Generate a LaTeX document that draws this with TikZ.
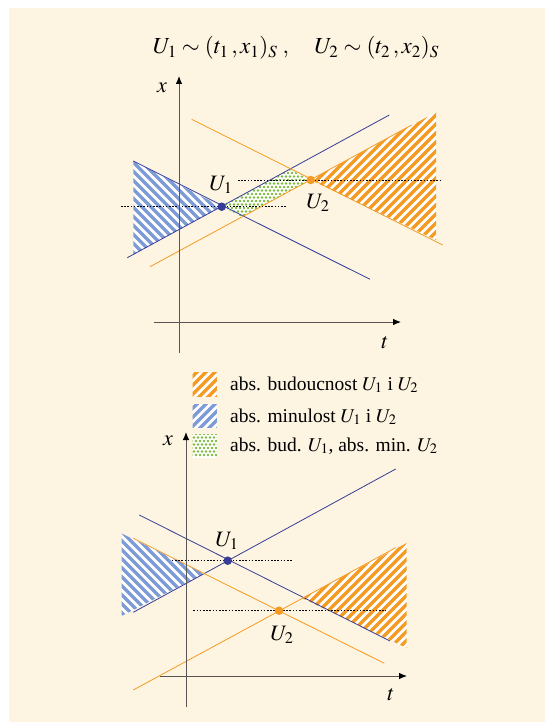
\documentclass[tikz,border=0pt]{standalone}
\usepackage{mathptmx}
\usepackage{fontspec}
\setmainfont{Liberation Serif}
\usetikzlibrary{arrows.meta}
\definecolor{cream}{RGB}{253,244,225}
\definecolor{navy}{RGB}{55,60,150}
\definecolor{amber}{RGB}{245,155,35}
\definecolor{sky}{RGB}{125,155,215}
\definecolor{leaf}{RGB}{125,185,60}
\definecolor{axisgray}{RGB}{90,85,85}
\tikzset{
  >={Latex[length=8pt,width=6.5pt,color=black]},
  axisline/.style={draw=axisgray,line width=0.9pt,->},
  cone/.style={draw=#1,line width=0.8pt},
  cone/.default=navy,
  level/.style={draw=black,line width=0.8pt,dash pattern=on 1.6pt off 1.6pt},
  event/.style={circle,fill=#1,inner sep=0pt,minimum size=8.5pt},
  stripe/.style={draw=#1,line width=3.3pt},
  grain/.style={fill=leaf},
  swatch/.style={minimum width=24pt,minimum height=23pt,inner sep=0pt},
  lbl/.style={font=\fontsize{22}{24}\selectfont},
  legtext/.style={font=\fontsize{19.5}{22}\selectfont,anchor=base west,inner sep=0pt},
}

\begin{document}
\begin{tikzpicture}[x=1pt,y=-1pt]
  \useasboundingbox (0,0) rectangle (545,722);
  \fill[white] (0,0) rectangle (545,722);
  \fill[cream] (9,8) rectangle (545,722);

  \node[font=\fontsize{23}{26}\selectfont,anchor=base] (title) at (296,54)
    {$U_1\sim(t_1\,,x_1)_S\;,\quad U_2\sim(t_2\,,x_2)_S$};

  % upper picture: U2 lies in the future of U1
  \coordinate (a1) at (221.7,206.7);
  \coordinate (a2) at (310.7,180);
  \coordinate (ab) at (127.3,257.7);  \coordinate (ae) at (389.3,115);
  \coordinate (af) at (133.3,161);    \coordinate (ag) at (370,279.3);
  \coordinate (ah) at (191.7,119.3);  \coordinate (ai) at (442.7,245);
  \coordinate (aj) at (150,266.7);    \coordinate (ak) at (411.7,125);
  \coordinate (ptop) at (290,169.6);  \coordinate (pbot) at (242.3,217);
  \begin{scope}
    \clip (a1) -- (af) -- (133.3,254.6) -- cycle;
    \fill[white] (120,150) rectangle (230,260);
    \foreach \c in {-128,-119,...,70} \draw[stripe=sky] (\c+150,150) -- (\c+265,265);
  \end{scope}
  \begin{scope}
    \clip (a2) -- (436,112.2) -- (436,240) -- cycle;
    \fill[white] (300,100) rectangle (440,250);
    \foreach \c in {416,425,...,690} \draw[stripe=amber] (\c-100,100) -- (\c-255,255);
  \end{scope}
  \begin{scope}
    \clip (a1) -- (ptop) -- (a2) -- (pbot) -- cycle;
    \fill[white] (215,165) rectangle (315,220);
    \foreach \i in {0,...,25} \foreach \j in {0,...,16}
      \fill[grain] ({216+4*\i+2*mod(\j,2)},{166+3.5*\j}) circle (1.4);
  \end{scope}
  \draw[cone] (ab) -- (ae);
  \draw[cone] (af) -- (ag);
  \draw[cone=amber] (ah) -- (ai);
  \draw[cone=amber] (aj) -- (ak);
  \coordinate (al1) at (121,206.7);   \coordinate (ar1) at (286,206.7);
  \coordinate (al2) at (238,180);     \coordinate (ar2) at (440,180);
  \draw[level] (al1) -- (ar1);
  \draw[level] (al2) -- (ar2);
  \coordinate (ax0) at (179,353);     \coordinate (ax1) at (179,76);
  \coordinate (at0) at (154,322);     \coordinate (at1) at (401,322);
  \draw[axisline] (ax0) -- (ax1);
  \draw[axisline] (at0) -- (at1);
  \node[event=navy] (e1) at (a1) {};
  \node[event=amber] (e2) at (a2) {};
  \node[lbl] (n1) at (221,185) {$U_1$};
  \node[lbl] (n2) at (318,203) {$U_2$};
  \node[lbl] (xa) at (162,88) {$x$};
  \node[lbl] (ta) at (385,343) {$t$};

  % legend
  \node[swatch] (s1) at (204.7,384.3) {};
  \node[swatch] (s2) at (204.7,415.8) {};
  \node[swatch] (s3) at (204.7,446) {};
  \begin{scope}
    \clip (s1.north west) rectangle (s1.south east);
    \fill[white] (s1.north west) rectangle (s1.south east);
    \foreach \c in {560,569,...,620} \draw[stripe=amber] (\c-365,365) -- (\c-405,405);
  \end{scope}
  \begin{scope}
    \clip (s2.north west) rectangle (s2.south east);
    \fill[white] (s2.north west) rectangle (s2.south east);
    \foreach \c in {592,601,...,650} \draw[stripe=sky] (\c-398,398) -- (\c-435,435);
  \end{scope}
  \begin{scope}
    \clip (s3.north west) rectangle (s3.south east);
    \fill[white] (s3.north west) rectangle (s3.south east);
    \foreach \i in {0,...,6} \foreach \j in {0,...,6}
      \fill[grain] ({192+4*\i+2*mod(\j,2)},{434+3.5*\j}) circle (1.4);
  \end{scope}
  \node[legtext] (l1) at (230,390) {abs. budoucnost $U_1$ i $U_2$};
  \node[legtext] (l2) at (230,422) {abs. minulost $U_1$ i $U_2$};
  \node[legtext] (l3) at (230,451) {abs. bud. $U_1$, abs. min. $U_2$};

  % lower picture: U1 and U2 are not causally related
  \coordinate (b1) at (227.7,560.7);
  \coordinate (b2) at (279,610.7);
  \coordinate (bb) at (133.3,612.3);  \coordinate (be) at (395.7,469);
  \coordinate (bf) at (139.3,515);    \coordinate (bg) at (390,641);
  \coordinate (bh) at (133.3,538.3);  \coordinate (bi) at (384.3,663.3);
  \coordinate (bj) at (133.3,690);    \coordinate (bk) at (395.7,547.7);
  \coordinate (qpast) at (204.4,573.4);
  \coordinate (qfut) at (302.1,598.2);
  \begin{scope}
    \clip (121.7,533.5) -- (qpast) -- (121.7,616) -- cycle;
    \fill[white] (115,525) rectangle (210,620);
    \foreach \c in {-500,-491,...,-320} \draw[stripe=sky] (\c+525,525) -- (\c+625,625);
  \end{scope}
  \begin{scope}
    \clip (qfut) -- (406.7,543) -- (406.7,648) -- cycle;
    \fill[white] (295,535) rectangle (410,655);
    \foreach \c in {840,849,...,1065} \draw[stripe=amber] (\c-535,535) -- (\c-655,655);
  \end{scope}
  \draw[cone] (bb) -- (be);
  \draw[cone] (bf) -- (bg);
  \draw[cone=amber] (bh) -- (bi);
  \draw[cone=amber] (bj) -- (bk);
  \coordinate (bl1) at (171.7,560.7); \coordinate (br1) at (292.7,560.7);
  \coordinate (bl2) at (193.3,610.7); \coordinate (br2) at (386,610.7);
  \draw[level] (bl1) -- (br1);
  \draw[level] (bl2) -- (br2);
  \coordinate (bx0) at (186,707);     \coordinate (bx1) at (186,432);
  \coordinate (bt0) at (160,676);     \coordinate (bt1) at (407,676);
  \draw[axisline] (bx0) -- (bx1);
  \draw[axisline] (bt0) -- (bt1);
  \node[event=navy] (f1) at (b1) {};
  \node[event=amber] (f2) at (b2) {};
  \node[lbl] (m1) at (227,541) {$U_1$};
  \node[lbl] (m2) at (282,635) {$U_2$};
  \node[lbl] (xb) at (168,441) {$x$};
  \node[lbl] (tb) at (391,695) {$t$};
\end{tikzpicture}
\end{document}
